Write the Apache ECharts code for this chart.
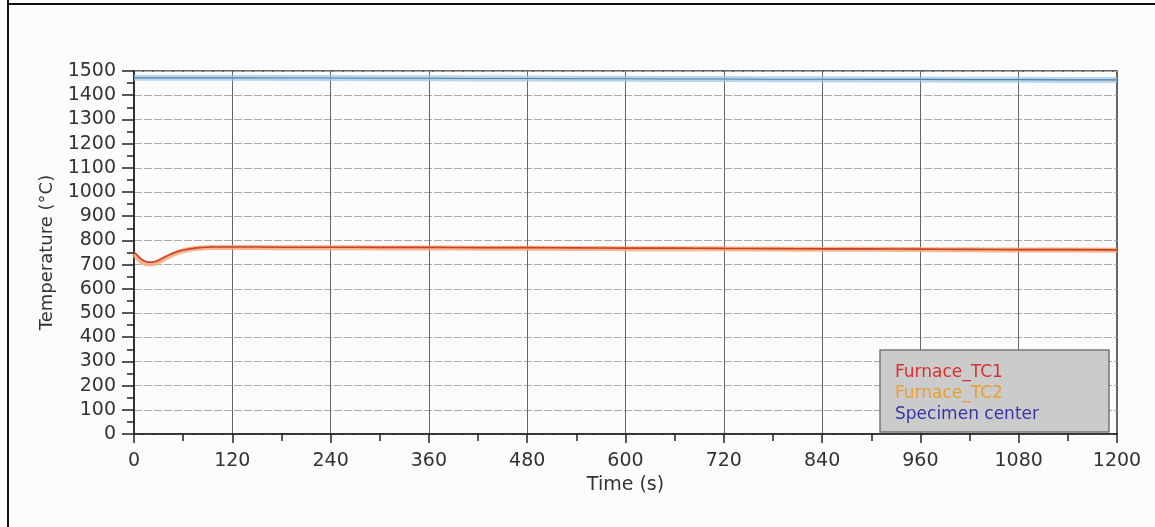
<!DOCTYPE html>
<html>
<head>
<meta charset="utf-8">
<script src="https://cdn.jsdelivr.net/npm/echarts@6/dist/echarts.min.js"></script>
<style>html,body{margin:0;padding:0;background:#fff;}#c{width:1155px;height:527px;}</style>
</head>
<body>
<div id="c"></div>
<script>
var timeS = [0,5,10,15,20,25,30,40,50,60,70,80,90,100,120,180,240,300,360,420,480,540,600,660,720,780,840,900,960,1020,1080,1140,1200];
var furnaceTC1 = [752,735,720,712,710,712,718,735,750,760,766,770,772,773,773,772,772,771,771,770,770,769,768,768,767,766,765,765,764,763,762,762,761];
var furnaceTC2 = [745,725,710,704,703,705,712,730,746,757,764,768,770,771,771,770,770,769,769,768,768,767,766,766,765,764,763,763,762,761,760,760,759];
var specimenCenter = [1472,1472,1472,1472,1472,1472,1472,1472,1472,1472,1472,1472,1472,1472,1472,1471,1471,1470,1470,1469,1469,1468,1468,1467,1467,1466,1466,1465,1465,1464,1464,1463,1463];
var seriesNames = ['Furnace_TC1','Furnace_TC2','Specimen center'];
var yTicks = {min:0, max:1500, interval:100};
var xTicks = {min:0, max:1200, interval:120};

function pairs(v){ return timeS.map(function(t,i){ return [t, v[i]]; }); }
function plain(v){ return String(v); }

var chart = echarts.init(document.getElementById('c'), null, {renderer:'canvas'});
var font = 'DejaVu Sans';
chart.setOption({
  backgroundColor:'#fdfcfc',
  animation:false,
  grid:{left:134, right:38, top:71, bottom:93, show:true, borderColor:'#333', borderWidth:1.5, backgroundColor:'transparent'},
  xAxis:{
    type:'value', min:xTicks.min, max:xTicks.max, interval:xTicks.interval,
    name:'Time (s)', nameLocation:'middle', nameGap:42,
    nameTextStyle:{fontFamily:font, fontSize:19, color:'#333'},
    axisLine:{lineStyle:{color:'#222', width:1.5}},
    axisTick:{show:true, inside:false, length:9, lineStyle:{color:'#222', width:1.5}},
    minorTick:{show:true, splitNumber:2, length:7, lineStyle:{color:'#222', width:1.5}},
    axisLabel:{fontFamily:font, fontSize:19, color:'#333', margin:18, formatter:plain},
    splitLine:{show:true, lineStyle:{color:'#666', width:1}}
  },
  yAxis:{
    type:'value', min:yTicks.min, max:yTicks.max, interval:yTicks.interval,
    name:'Temperature (\u00B0C)', nameLocation:'middle', nameGap:62,
    nameTextStyle:{fontFamily:font, fontSize:18, color:'#333'},
    axisLine:{show:true, lineStyle:{color:'#222', width:1.5}},
    axisTick:{show:true, inside:false, length:12, lineStyle:{color:'#222', width:1.5}},
    minorTick:{show:true, splitNumber:2, length:7, lineStyle:{color:'#222', width:1.5}},
    axisLabel:{fontFamily:font, fontSize:19, color:'#333', margin:18, formatter:plain},
    splitLine:{show:true, lineStyle:{color:'#aaa', width:1, type:[8,2]}}
  },
  legend:{
    orient:'vertical', left:880, top:350,
    padding:[14,70,9,10], itemGap:4, itemWidth:0, itemHeight:0, icon:'none',
    backgroundColor:'#cbcbcb', borderColor:'#777', borderWidth:1.5,
    data:[
      {name:seriesNames[0], textStyle:{color:'#d83030'}},
      {name:seriesNames[1], textStyle:{color:'#e8a030'}},
      {name:seriesNames[2], textStyle:{color:'#3535a8'}}
    ],
    textStyle:{fontFamily:font, fontSize:17, padding:[0,0,0,0]}
  },
  graphic:[
    {type:'line', shape:{x1:8, y1:0, x2:8, y2:527}, style:{stroke:'#111', lineWidth:2}},
    {type:'line', shape:{x1:8, y1:4, x2:1155, y2:4}, style:{stroke:'#111', lineWidth:2}}
  ],
  series:[
    {name:seriesNames[2], type:'line', data:pairs(specimenCenter), showSymbol:false, lineStyle:{color:'#9cc4e0', width:6, opacity:0.7}, itemStyle:{color:'#4a7fb0'}, z:2},
    {name:seriesNames[2]+' ', type:'line', data:pairs(specimenCenter), showSymbol:false, lineStyle:{color:'#4a7fb0', width:1.2}, z:3},
    {name:seriesNames[1], type:'line', data:pairs(furnaceTC2), showSymbol:false, smooth:true, lineStyle:{color:'#f4a878', width:5, opacity:0.85}, itemStyle:{color:'#f0a050'}, z:4},
    {name:seriesNames[0], type:'line', data:pairs(furnaceTC1), showSymbol:false, smooth:true, lineStyle:{color:'#c8402a', width:1.6}, itemStyle:{color:'#c8402a'}, z:5}
  ]
});
</script>
</body>
</html>
